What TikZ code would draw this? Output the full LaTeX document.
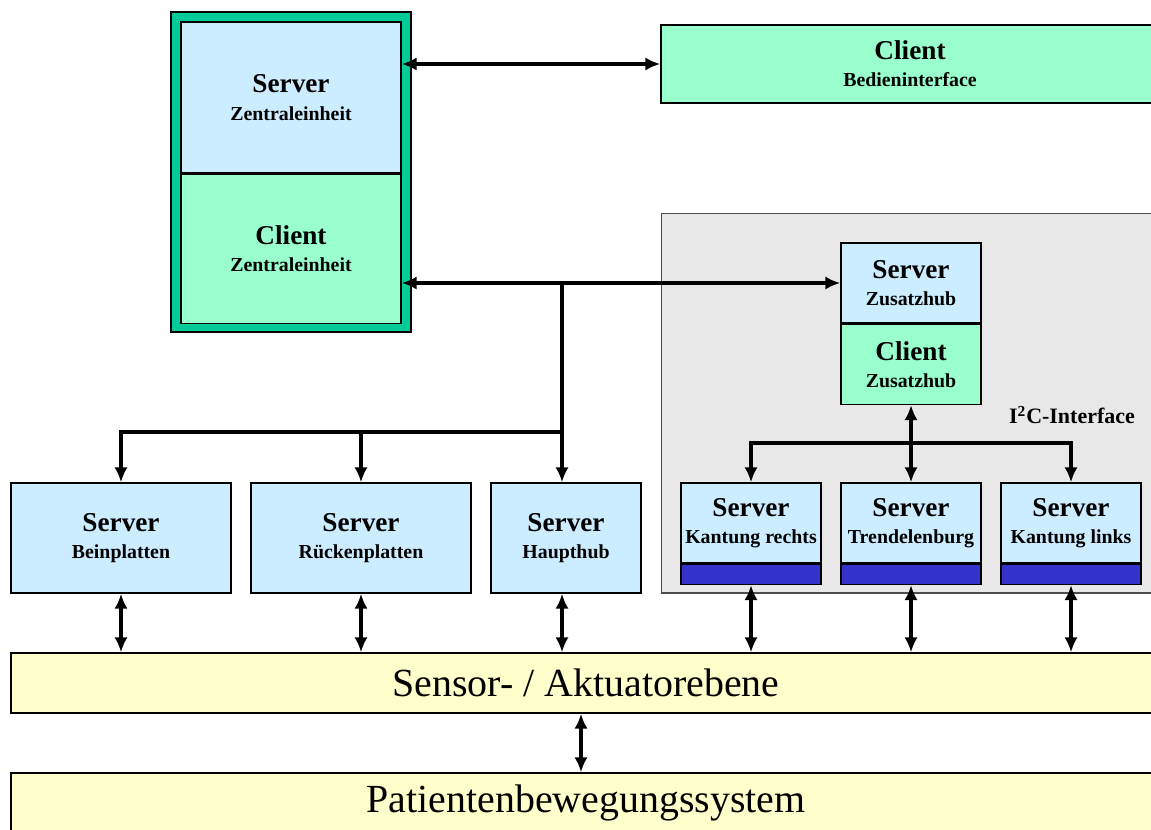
\documentclass[tikz,border=0pt]{standalone}
\usepackage{fontspec}
\setmainfont{Liberation Serif}
\usetikzlibrary{arrows.meta, positioning}

\definecolor{srvblue}{HTML}{CCECFF}
\definecolor{cligreen}{HTML}{99FFCC}
\definecolor{zegreen}{HTML}{00CC99}
\definecolor{barblue}{HTML}{3333CC}
\definecolor{layeryellow}{HTML}{FFFFCC}

\newcommand{\subline}[1]{{\fontsize{11.3}{12}\selectfont #1}}

\begin{document}
\begin{tikzpicture}[
    x=0.02cm, y=-0.02cm,
    box/.style={rectangle, draw, line width=0.8pt, inner sep=0pt, align=center,
                font=\bfseries\fontsize{15.5}{15.5}\selectfont},
    srv/.style={box, fill=srvblue},
    cli/.style={box, fill=cligreen},
    sbox/.style={srv, minimum width=2.8cm, minimum height=1.6cm},
    bar/.style={rectangle, draw, line width=0.8pt, fill=barblue, inner sep=0pt,
                minimum width=2.8cm, minimum height=0.4cm},
    layer/.style={rectangle, draw, line width=0.8pt, fill=layeryellow, inner sep=0pt,
                  minimum width=23cm, minimum height=1.2cm,
                  font=\fontsize{22.7}{24}\selectfont},
    tip/.tip={Latex[length=8.5pt, width=7.5pt]},
    arr/.style={-tip, line width=2.1pt},
    darr/.style={tip-tip, line width=2.1pt},
]
\useasboundingbox (0,0) rectangle (1151,829);
\clip (0,0) rectangle (1151,829);

% Zentraleinheit
\node[box, fill=zegreen, minimum width=4.8cm, minimum height=6.4cm] (ze) at (291,172) {};
\node[srv, minimum width=4.4cm, minimum height=3.02cm] (zeSrv) at (291,97.5)
    {Server\\\subline{Zentraleinheit}};
\node[cli, minimum width=4.4cm, minimum height=2.98cm, below=0pt of zeSrv] (zeCli)
    {Client\\\subline{Zentraleinheit}};

\node[cli, minimum width=9.96cm, minimum height=1.56cm] (bedien) at (910,64)
    {Client\\\subline{Bedieninterface}};

% I2C-Bereich
\node[rectangle, draw=black!70, line width=0.6pt, fill=gray!18,
      minimum width=9.98cm, minimum height=7.6cm] (i2c) at (910.5,403) {};
\node[font=\bfseries\fontsize{12.5}{13}\selectfont, anchor=east] (i2cLbl) at (1141,415)
    {I\textsuperscript{2}C-Interface};

\node[sbox] (zhSrv) at (911,283) {Server\\\subline{Zusatzhub}};
\node[cli, minimum width=2.8cm, minimum height=1.6cm, below=0pt of zhSrv] (zhCli)
    {Client\\\subline{Zusatzhub}};

\node[sbox] (kr) at (751,523) {Server\\\subline{Kantung rechts}};
\node[sbox] (tr) at (911,523) {Server\\\subline{Trendelenburg}};
\node[sbox] (kl) at (1071,523) {Server\\\subline{Kantung links}};
\node[bar, below=0pt of kr] (krBar) {};
\node[bar, below=0pt of tr] (trBar) {};
\node[bar, below=0pt of kl] (klBar) {};

% linke Server
\node[srv, minimum width=4.4cm, minimum height=2.2cm] (bein) at (121,538)
    {Server\\\subline{Beinplatten}};
\node[srv, minimum width=4.4cm, minimum height=2.2cm] (rueck) at (361,538)
    {Server\\\subline{Rückenplatten}};
\node[srv, minimum width=3cm, minimum height=2.2cm] (hh) at (566,538)
    {Server\\\subline{Haupthub}};

% Ebenen
\node[layer] (sensor) at (586,683) {Sensor- / Aktuatorebene};
\node[layer] (pat) at (586,803) {Patientenbewegungssystem};

\coordinate (trunk) at (562,432);
\coordinate (bus) at (911,443);
\coordinate (mid) at (581,743);

\draw[darr] (zeSrv.east |- bedien.west) -- (bedien.west);
\draw[darr] (zeCli.east |- zhSrv.west) -- (zhSrv.west);
\draw[arr] (trunk |- zhSrv.west) -- (trunk |- hh.north);
\draw[arr] (trunk) -| (bein.north);
\draw[arr] (trunk) -| (rueck.north);

\draw[darr] (zhCli.south) -- (tr.north);
\draw[arr] (bus) -| (kr.north);
\draw[arr] (bus) -| (kl.north);

\draw[darr] (bein.south) -- (bein.south |- sensor.north);
\draw[darr] (rueck.south) -- (rueck.south |- sensor.north);
\draw[darr] (trunk |- hh.south) -- (trunk |- sensor.north);
\draw[darr] (krBar.south) -- (krBar.south |- sensor.north);
\draw[darr] (trBar.south) -- (trBar.south |- sensor.north);
\draw[darr] (klBar.south) -- (klBar.south |- sensor.north);
\draw[darr] (mid |- sensor.south) -- (mid |- pat.north);
\end{tikzpicture}
\end{document}
